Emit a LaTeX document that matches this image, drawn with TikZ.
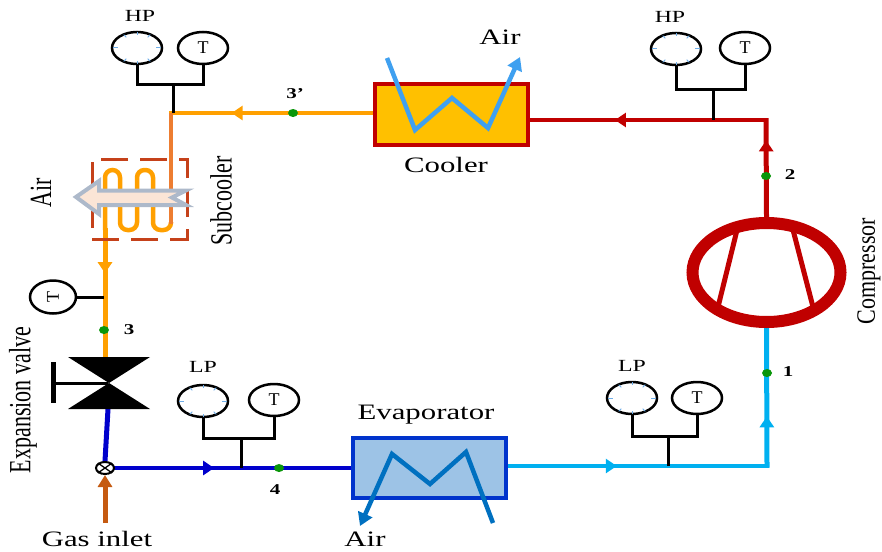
\documentclass[tikz,border=0pt]{standalone}
\usepackage{fontspec}
\setmainfont{Liberation Serif}
\usepackage{tikz}
\usetikzlibrary{shapes}
\usetikzlibrary{arrows.meta,decorations.markings,backgrounds,calc}
\definecolor{hotred}{HTML}{C00000}
\definecolor{warmorange}{HTML}{FFA000}
\definecolor{coilorange}{HTML}{ED7D31}
\definecolor{coldblue}{HTML}{0000CC}
\definecolor{lightpipe}{HTML}{00B0F0}
\definecolor{dotgreen}{HTML}{0A960A}
\definecolor{coolfill}{HTML}{FFC000}
\definecolor{evapfill}{HTML}{9DC3E6}
\definecolor{evapedge}{HTML}{0033CC}
\definecolor{coolair}{HTML}{3FA0F0}
\definecolor{evapair}{HTML}{0070C0}
\definecolor{gasbrown}{HTML}{C55A11}
\definecolor{dashred}{HTML}{C5411A}
\definecolor{arrowedge}{HTML}{ADB9CA}
\definecolor{arrowfill}{HTML}{FBE5D6}
\definecolor{tickblue}{HTML}{6FAEE8}
\tikzset{plain label/.style={font=\fontsize{22}{24}\selectfont, inner sep=0pt, xscale=1.4, transform shape}}
\tikzset{side label/.style={plain label, rotate=90}}
\tikzset{gauge label/.style={plain label, font=\fontsize{17}{19}\selectfont}}
\tikzset{state label/.style={plain label, font=\fontsize{15}{17}\selectfont\bfseries}}
\tikzset{gauge/.style={ellipse, draw, line width=2.5pt, minimum width=50pt, minimum height=32pt, inner sep=0pt, font=\fontsize{18}{20}\selectfont}}
\tikzset{dial tick/.style={draw=tickblue, line width=1pt}}
\tikzset{gauge line/.style={draw=black, line width=3pt}}
\tikzset{state dot/.style={ellipse, fill=dotgreen, inner sep=0pt, minimum width=10pt, minimum height=8pt}}
\tikzset{pipe/.style={line width=3.5pt, line cap=rect}}
\tikzset{riser/.style={line width=5pt, line cap=rect, shorten >=0.75pt, shorten <=0.75pt}}
\tikzset{flow/.style={postaction={decorate}, decoration={markings, mark=at position #1 with {\arrow{Triangle[length=11pt,width=14pt]}}}}}
\newcommand{\dialticks}[1]{\foreach \a in {0,45,...,315} {\draw [dial tick] ($(#1.\a)!0.08!(#1.center)$) -- ($(#1.\a)!0.26!(#1.center)$);}}

\begin{document}
\begin{tikzpicture}
      [x=1pt, y=-1pt]
      \useasboundingbox (0,0) rectangle (882,551);

      \node [rectangle, draw=hotred, fill=coolfill, line width=4pt, minimum width=153pt, minimum height=61pt] (cooler) at (451.5,114.5) {};
      \node [rectangle, draw=evapedge, fill=evapfill, line width=4pt, minimum width=153pt, minimum height=60pt] (evaporator) at (429.5,468) {};
      \node [ellipse, draw=hotred, line width=12pt, minimum width=148pt, minimum height=99pt, inner sep=0pt] (compressor) at (766.5,272.5) {};
      \node [rectangle, draw=dashred, line width=3pt, dash pattern=on 27pt off 12pt, minimum width=95pt, minimum height=80pt] (subcooler) at (139.5,199) {};
      \node [ellipse, draw, line width=2pt, minimum width=18pt, minimum height=12pt, inner sep=0pt] (mixer) at (105,468) {};
      \draw [line width=1.3pt] (mixer.north west) -- (mixer.south east) (mixer.north east) -- (mixer.south west);

      \node [gauge]                 (hpdial1) at (137,48)  {};
      \node [gauge]                 (hptemp1) at (203,48)  {T};
      \node [gauge]                 (hpdial2) at (676,49)  {};
      \node [gauge]                 (hptemp2) at (745,48)  {T};
      \node [gauge]                 (lpdial1) at (203,401) {};
      \node [gauge]                 (lptemp1) at (274,400) {T};
      \node [gauge]                 (lpdial2) at (632,398) {};
      \node [gauge]                 (lptemp2) at (697,398) {T};
      \node [gauge, rotate=90, minimum width=33pt, minimum height=46pt] (valvetemp) at (53,297) {T};
      \dialticks{hpdial1}
      \dialticks{hpdial2}
      \dialticks{lpdial1}
      \dialticks{lpdial2}

      \coordinate (corner3)  at (171,113);
      \coordinate (corner2)  at (766,120);
      \coordinate (corner1)  at (767,466);
      \coordinate (coilout)  at (105,230);
      \coordinate (valvetop) at (105,357);
      \coordinate (valvebot) at (108,409);
      \coordinate (gasin)    at (105,523);

      \node [state dot] (state3p) at (293,113) {};
      \node [state dot] (state2)  at (766,176) {};
      \node [state dot] (state1)  at (767,373) {};
      \node [state dot] (state3)  at (104,330) {};
      \node [state dot] (state4)  at (279,468) {};

      \coordinate (hpjoin1) at (173,84);
      \coordinate (hpjoin2) at (713,89);
      \coordinate (lpjoin1) at (241,438);
      \coordinate (lpjoin2) at (668,436);
      \draw [gauge line] (hpdial1.south) |- (hpjoin1) -| (hptemp1.south);
      \draw [gauge line] (hpdial2.south) |- (hpjoin2) -| (hptemp2.south);
      \draw [gauge line] (lpdial1.south) |- (lpjoin1) -| (lptemp1.south);
      \draw [gauge line] (lpdial2.south) |- (lpjoin2) -| (lptemp2.south);
      \draw [gauge line] (hpjoin1) -- (hpjoin1 |- corner3);
      \draw [gauge line] (hpjoin2) -- (hpjoin2 |- corner2);
      \draw [gauge line] (lpjoin1) -- (lpjoin1 |- evaporator.west);
      \draw [gauge line] (lpjoin2) -- (lpjoin2 |- corner1);
      \draw [gauge line] (valvetemp.south) -- (valvetemp.south -| state3);

      \draw [hotred, line width=5pt] (738,226) -- (718,307);
      \draw [hotred, line width=5pt] (792,226) -- (813,307);

      \draw [coolair, line width=4.5pt, -{Triangle[length=13pt,width=15pt]}] (387,58) -- (415,130) -- (452,98) -- (488,128) -- (520,57);
      \draw [evapair, line width=4.5pt, -{Triangle[length=13pt,width=15pt]}] (493,523) -- (466,452) -- (430,484) -- (392,454) -- (360,526);

      \draw [warmorange, line width=4.5pt, rounded corners=7.5pt] (coilout) -- (105,170) -- (120,170) -- (120,230) -- (137,230) -- (137,170) -- (153,170) -- (153,230) -- (171,230) -- (171,222);
      \draw [coilorange, line width=4.5pt] (corner3) -- (171,224);
      \draw [draw=arrowedge, fill=arrowfill, line width=4pt] (76,197) -- (99,181) -- (99,190.5) -- (186,190.5) -- (172,197.5) -- (186,205) -- (99,205) -- (99,214) -- cycle;

      \fill (68,357) -- (150,357) -- (68,409) -- (150,409) -- cycle;
      \draw [line width=3pt] (53,383) -- (108,383);
      \draw [line width=5pt] (53,362) -- (53,403);

      \draw [gasbrown, line width=5pt, -{Triangle[length=12pt,width=14pt]}] (gasin) -- (mixer.south);

      \begin{pgfonlayer}{background}
        \draw [pipe, hotred, flow=0.64]         (corner2) -- (cooler.east |- corner2);
        \draw [riser, hotred, flow=0.79]        (compressor.north) -- (corner2);
        \draw [pipe, warmorange, flow=0.7]      (cooler.west |- corner3) -- (corner3);
        \draw [riser, warmorange, flow=0.34]    (coilout) -- (valvetop);
        \draw [riser, coldblue]                 (valvebot) -- (mixer.north);
        \draw [pipe, coldblue, flow=0.42]       (mixer.east) -- (evaporator.west);
        \draw [pipe, lightpipe, flow=0.42]      (evaporator.east |- corner1) -- (corner1);
        \draw [riser, lightpipe, flow=0.36]     (corner1) -- (compressor.south);
      \end{pgfonlayer}

      \node [gauge label] (hplabel1) at (140,16)  {HP};
      \node [gauge label] (hplabel2) at (670,17)  {HP};
      \node [gauge label] (lplabel1) at (203,367) {LP};
      \node [gauge label] (lplabel2) at (632,366) {LP};
      \node [state label] (label3p)  at (295,94)  {3’};
      \node [state label] (label2)   at (790,175) {2};
      \node [state label] (label1)   at (788,372) {1};
      \node [state label] (label3)   at (129,330) {3};
      \node [state label] (label4)   at (275,490) {4};
      \node [plain label] (airtop)   at (500,37)  {Air};
      \node [plain label] (coolname) at (446,165) {Cooler};
      \node [plain label] (evapname) at (426,415) {Evaporator};
      \node [plain label] (airlow)   at (365,539) {Air};
      \node [plain label] (gasname)  at (97,539)  {Gas inlet};
      \node [side label]  (airside)  at (41,193)  {Air};
      \node [side label]  (subname)  at (221,201) {Subcooler};
      \node [side label]  (valvename) at (23,400) {Expansion valve};
      \node [xscale=0.86, side label] (compname) at (869,271) {Compressor};
    \end{tikzpicture}
\end{document}
